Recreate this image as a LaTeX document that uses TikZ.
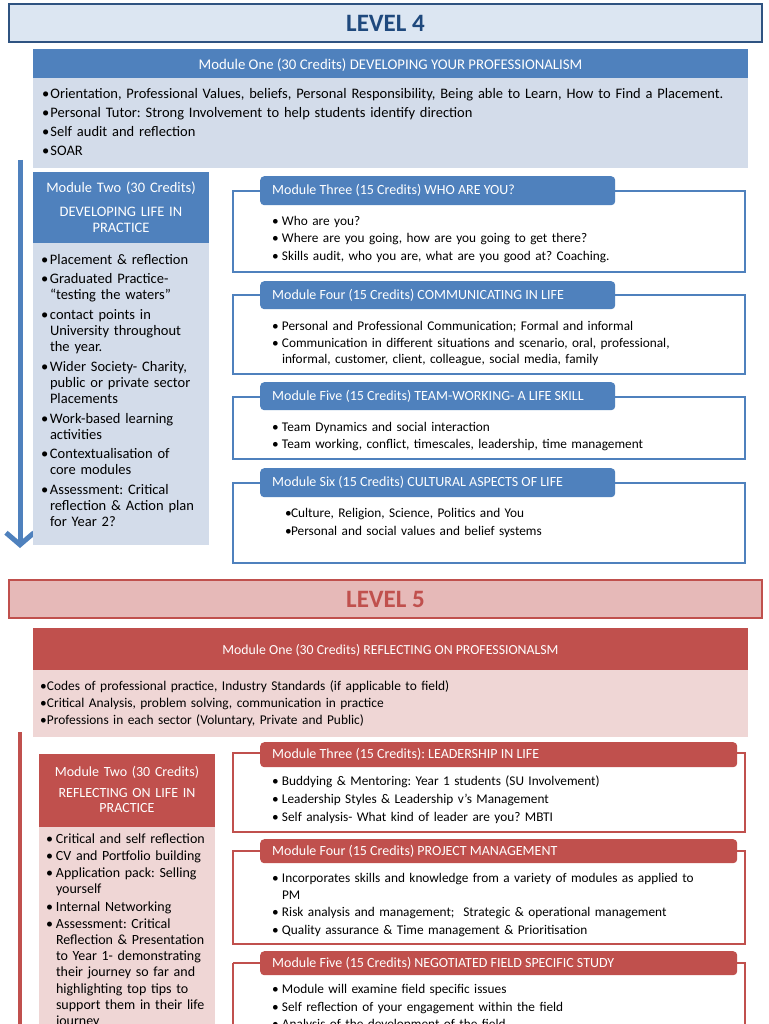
\documentclass[tikz,border=0pt]{standalone}
\usepackage{fontspec}
\setmainfont{Carlito}
\usetikzlibrary{arrows.meta}
\definecolor{blu}{HTML}{4F81BD}
\definecolor{lblu}{HTML}{D3DCEA}
\definecolor{lvfill}{HTML}{DCE6F2}
\definecolor{lvborder}{HTML}{2F5381}
\definecolor{lvtext}{HTML}{1F497D}
\definecolor{rd}{HTML}{C0504D}
\definecolor{lrd}{HTML}{EFD6D5}
\definecolor{lvfillr}{HTML}{E6B9B8}
\newlength\bulw
\newcommand{\bitm}[1]{\hangindent=\bulw\hangafter=1\noindent\makebox[\bulw][l]{\textbullet}#1\par}
\newcommand{\fsz}[2]{\fontsize{#1}{#2}\selectfont}
\frenchspacing
\begin{document}
\begin{tikzpicture}[x=1pt,y=-1pt,
  box/.style={anchor=north west, inner sep=0pt, outer sep=0pt},
  txt/.style={anchor=north west, inner sep=0pt, outer sep=0pt, text width=#1},
  lvl/.style={box, line width=2pt, minimum width=753pt, minimum height=38pt, font=\fsz{25}{30}\bfseries},
  tab/.style={anchor=north west, inner sep=0pt, rounded corners=4pt, minimum height=#1},
  tabtxt/.style={anchor=west, inner sep=0pt, text=white, font=\fsz{14}{16}},
  outl/.style={draw=#1, line width=2pt},
]
\useasboundingbox[fill=white] (0,0) rectangle (768,1024);

% ================= LEVEL 4 =================
\node[lvl, draw=lvborder, fill=lvfill, text=lvtext] (lv4) at (9,4) {LEVEL 4};

% Module One
\node[box, fill=blu, minimum width=715pt, minimum height=29pt] (m1h) at (33,49) {};
\node[anchor=center, inner sep=0pt, text=white, font=\fsz{14.8}{16}] (m1ht) at ([yshift=-1.5pt]m1h.center) {Module One (30 Credits) DEVELOPING YOUR PROFESSIONALISM};
\node[box, fill=lblu, minimum width=715pt, minimum height=90pt] (m1b) at (33,78) {};
\node[txt=705pt, font={\fsz{14.5}{19.3}\setlength\bulw{8.5pt}\setlength\parskip{0pt}}] (m1t) at (42,88) {%
\bitm{Orientation, Professional Values, beliefs, Personal Responsibility, Being able to Learn, How to Find a Placement.}
\bitm{Personal Tutor: Strong Involvement to help students identify direction}
\bitm{Self audit and reflection}
\bitm{SOAR}};

% arrow
\coordinate (a4s) at (20,160);
\coordinate (a4e) at (20,548);
\draw[blu, line width=5pt, -{Straight Barb[length=12pt, width=28pt, line width=5pt]}] (a4s) -- (a4e);

% Module Two
\node[box, fill=blu, minimum width=176pt, minimum height=71pt] (m2h) at (33,172) {};
\node[anchor=north, inner sep=0pt, text width=176pt, align=center, text=white, font=\fsz{14.5}{16}] (m2ht) at (121,181.5) {Module Two (30 Credits)\\[8pt]DEVELOPING LIFE IN\\PRACTICE};
\node[box, fill=lblu, minimum width=176pt, minimum height=302pt] (m2b) at (33,243) {};
\node[txt=170pt, font={\fsz{14.5}{16.2}\setlength\bulw{9pt}\setlength\parskip{3.3pt}}] (m2t) at (41,254) {%
\bitm{Placement \& reflection}
\bitm{Graduated Practice-\newline “testing the waters”}
\bitm{contact points in\newline University throughout\newline the year.}
\bitm{Wider Society- Charity,\newline public or private sector\newline Placements}
\bitm{Work-based learning\newline activities}
\bitm{Contextualisation of\newline core modules}
\bitm{Assessment: Critical\newline reflection \& Action plan\newline for Year 2?}};

% Module Three
\draw[outl=blu] (233,191) rectangle (745,272);
\node[tab=29pt, fill=blu, minimum width=355pt] (m3h) at (260,176) {};
\node[tabtxt] (m3ht) at (272,190.5) {Module Three (15 Credits) WHO ARE YOU?};
\node[txt=460pt, font={\fsz{13.3}{17.5}\setlength\bulw{10pt}\setlength\parskip{0pt}}] (m3t) at (272,216) {%
\bitm{Who are you?}
\bitm{Where are you going, how are you going to get there?}
\bitm{Skills audit, who you are, what are you good at? Coaching.}};

% Module Four
\draw[outl=blu] (233,295) rectangle (745,374);
\node[tab=28pt, fill=blu, minimum width=355pt] (m4h) at (260,281) {};
\node[tabtxt] (m4ht) at (272,295.5) {Module Four (15 Credits) COMMUNICATING IN LIFE};
\node[txt=460pt, font={\fsz{13.3}{16}\setlength\bulw{10pt}\setlength\parskip{1pt}}] (m4t) at (272,321.5) {%
\bitm{Personal and Professional Communication; Formal and informal}
\bitm{Communication in different situations and scenario, oral, professional,\newline informal, customer, client, colleague, social media, family}};

% Module Five
\draw[outl=blu] (233,397) rectangle (745,459);
\node[tab=28pt, fill=blu, minimum width=355pt] (m5h) at (260,382) {};
\node[tabtxt] (m5ht) at (272,396.5) {Module Five (15 Credits) TEAM-WORKING- A LIFE SKILL};
\node[txt=460pt, font={\fsz{13.3}{17}\setlength\bulw{10pt}\setlength\parskip{0pt}}] (m5t) at (272,422) {%
\bitm{Team Dynamics and social interaction}
\bitm{Team working, conflict, timescales, leadership, time management}};

% Module Six
\draw[outl=blu] (233,483) rectangle (745,563);
\node[tab=29pt, fill=blu, minimum width=355pt] (m6h) at (260,468) {};
\node[tabtxt] (m6ht) at (272,482.5) {Module Six (15 Credits) CULTURAL ASPECTS OF LIFE};
\node[txt=440pt, font={\fsz{13.3}{18}\setlength\bulw{6pt}\setlength\parskip{0pt}}] (m6t) at (285,508) {%
\bitm{Culture, Religion, Science, Politics and You}
\bitm{Personal and social values and belief systems}};

% ================= LEVEL 5 =================
\node[lvl, draw=rd, fill=lvfillr, text=rd] (lv5) at (9,580) {LEVEL 5};

% Module One
\node[box, fill=rd, minimum width=715pt, minimum height=42pt] (n1h) at (33,628) {};
\node[anchor=center, inner sep=0pt, text=white, font=\fsz{13.8}{15}] (n1ht) at ([yshift=-1.5pt]n1h.center) {Module One (30 Credits) REFLECTING ON PROFESSIONALSM};
\node[box, fill=lrd, minimum width=715pt, minimum height=67pt] (n1b) at (33,670) {};
\node[txt=700pt, font={\fsz{13.4}{17}\setlength\bulw{7pt}\setlength\parskip{0pt}}] (n1t) at (40,681) {%
\bitm{Codes of professional practice, Industry Standards (if applicable to field)}
\bitm{Critical Analysis, problem solving, communication in practice}
\bitm{Professions in each sector (Voluntary, Private and Public)}};

% bar
\coordinate (b5s) at (20,732);
\coordinate (b5e) at (20,1030);
\draw[rd, line width=4pt] (b5s) -- (b5e);

% Module Two
\node[box, fill=rd, minimum width=176pt, minimum height=73pt] (n2h) at (39,754) {};
\node[anchor=north, inner sep=0pt, text width=176pt, align=center, text=white, font=\fsz{14}{15}] (n2ht) at (127,766) {Module Two (30 Credits)\\[6pt]REFLECTING ON LIFE IN\\PRACTICE};
\node[box, fill=lrd, minimum width=176pt, minimum height=210pt] (n2b) at (39,827) {};
\node[txt=170pt, font={\fsz{14}{16.2}\setlength\bulw{10pt}\setlength\parskip{1pt}}] (n2t) at (46,833.5) {%
\bitm{Critical and self reflection}
\bitm{CV and Portfolio building}
\bitm{Application pack: Selling\newline yourself}
\bitm{Internal Networking}
\bitm{Assessment: Critical\newline Reflection \& Presentation\newline to Year 1- demonstrating\newline their journey so far and\newline highlighting top tips to\newline support them in their life\newline journey}};

% Module Three
\draw[outl=rd] (233,753) rectangle (745,832);
\node[tab=25pt, fill=rd, minimum width=477pt] (n3h) at (260,742) {};
\node[tabtxt] (n3ht) at (272,754.5) {Module Three (15 Credits): LEADERSHIP IN LIFE};
\node[txt=460pt, font={\fsz{13.3}{18}\setlength\bulw{10pt}\setlength\parskip{0pt}}] (n3t) at (272,776) {%
\bitm{Buddying \& Mentoring: Year 1 students (SU Involvement)}
\bitm{Leadership Styles \& Leadership v’s Management}
\bitm{Self analysis- What kind of leader are you? MBTI}};

% Module Four
\draw[outl=rd] (233,851) rectangle (745,944);
\node[tab=24pt, fill=rd, minimum width=477pt] (n4h) at (260,839) {};
\node[tabtxt] (n4ht) at (272,851) {Module Four (15 Credits) PROJECT MANAGEMENT};
\node[txt=460pt, font={\fsz{13.3}{16.5}\setlength\bulw{10pt}\setlength\parskip{1pt}}] (n4t) at (272,873.5) {%
\bitm{Incorporates skills and knowledge from a variety of modules as applied to\newline PM}
\bitm{Risk analysis and management;\ \ Strategic \& operational management}
\bitm{Quality assurance \& Time management \& Prioritisation}};

% Module Five
\draw[outl=rd] (233,963) -- (233,1030) (233,963) -- (260,963) (737,963) -- (745,963) -- (745,1030);
\node[tab=24pt, fill=rd, minimum width=477pt] (n5h) at (260,951) {};
\node[tabtxt] (n5ht) at (272,963) {Module Five (15 Credits) NEGOTIATED FIELD SPECIFIC STUDY};
\node[txt=460pt, font={\fsz{13.3}{17.8}\setlength\bulw{10pt}\setlength\parskip{0pt}}] (n5t) at (272,984) {%
\bitm{Module will examine field specific issues}
\bitm{Self reflection of your engagement within the field}
\bitm{Analysis of the development of the field}};
\end{tikzpicture}
\end{document}
